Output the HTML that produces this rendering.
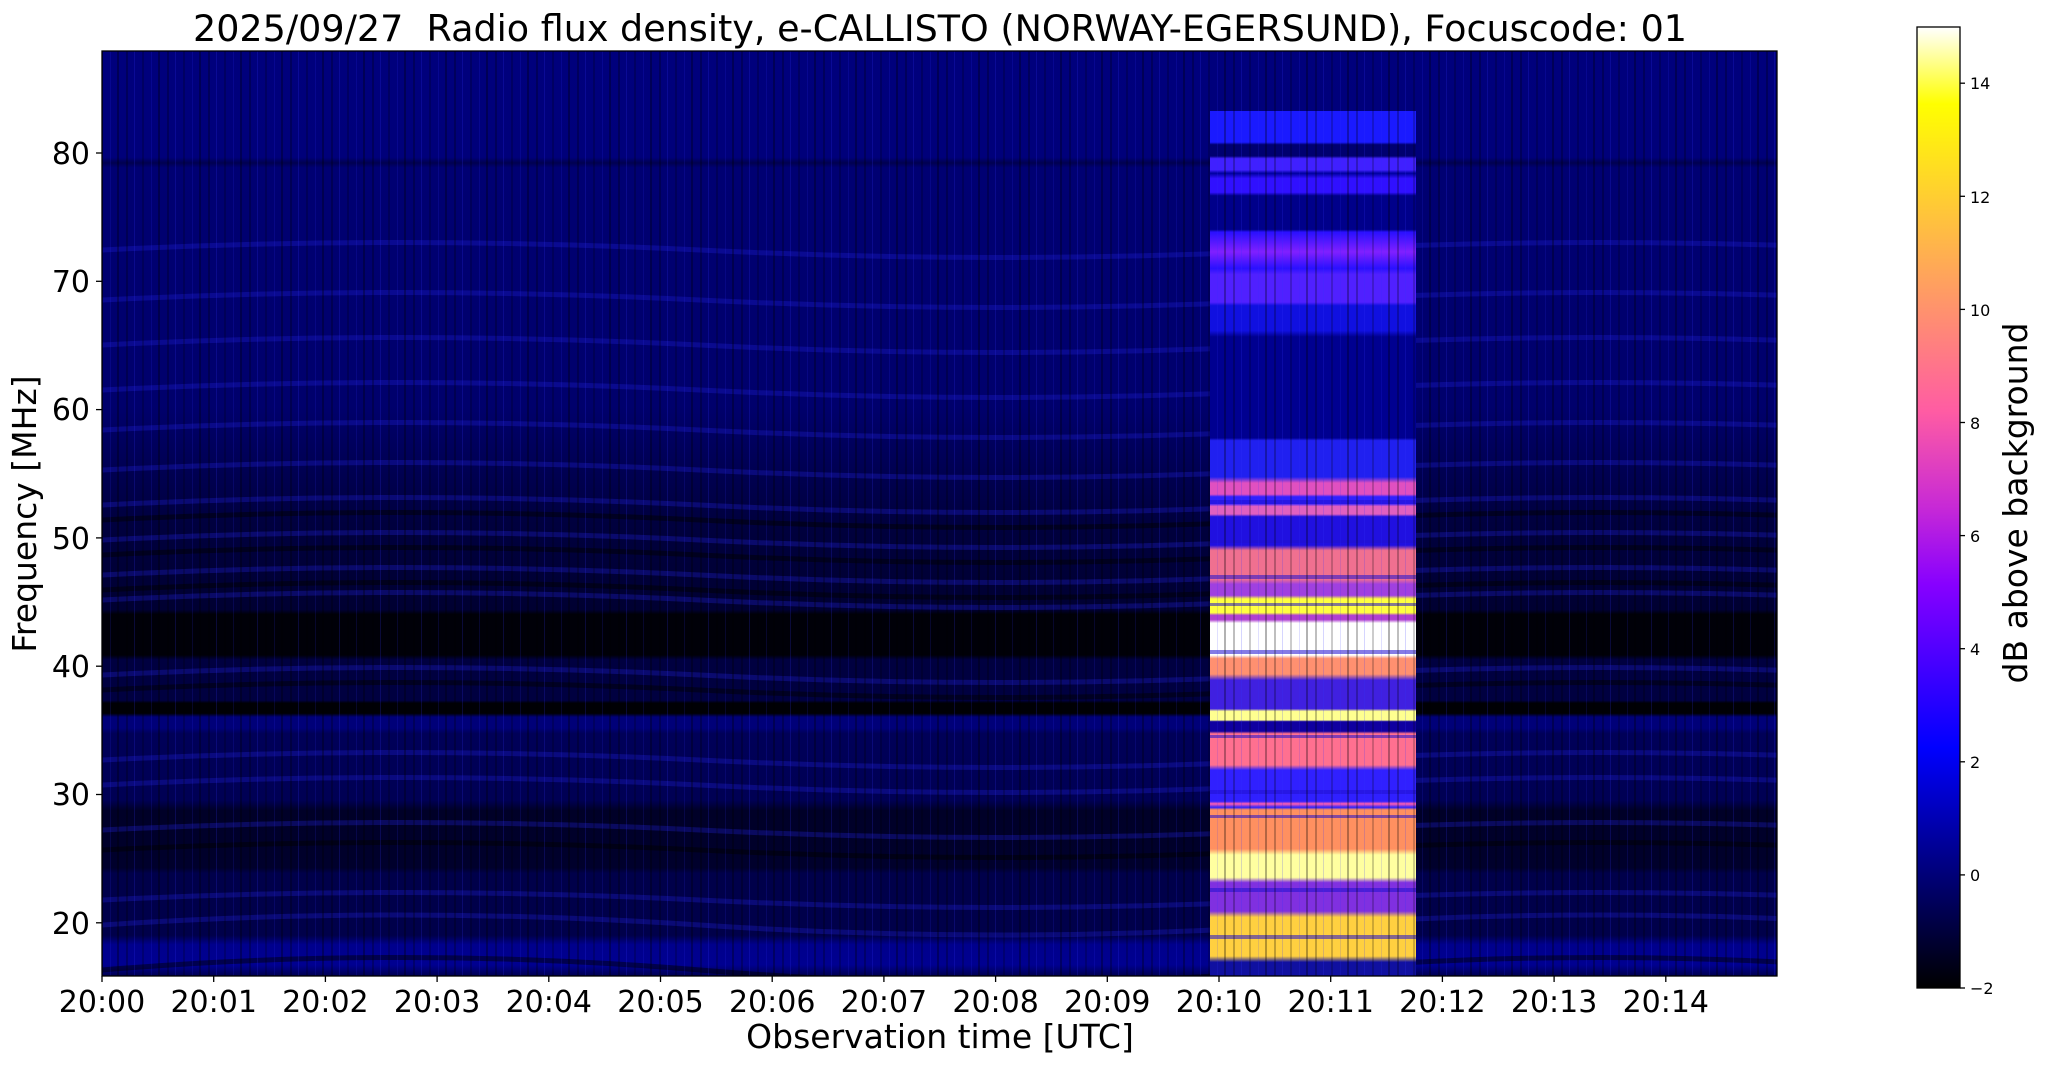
<!DOCTYPE html>
<html><head><meta charset="utf-8"><style>
html,body{margin:0;padding:0;background:#fff;}
svg{display:block;font-family:"DejaVu Sans","Liberation Sans",sans-serif;}
</style></head><body>
<svg width="2047" height="1067" viewBox="0 0 2047 1067" xmlns="http://www.w3.org/2000/svg">
<defs>
<linearGradient id="bg" x1="0" y1="0" x2="0" y2="1">
<stop offset="0" stop-color="#00007c"/><stop offset="0.115" stop-color="#00007a"/>
<stop offset="0.121" stop-color="#000050"/><stop offset="0.126" stop-color="#000072"/>
<stop offset="0.384" stop-color="#00006c"/><stop offset="0.454" stop-color="#000052"/>
<stop offset="0.511" stop-color="#00003e"/><stop offset="0.604" stop-color="#000032"/>
<stop offset="0.609" stop-color="#000008"/><stop offset="0.653" stop-color="#000008"/>
<stop offset="0.658" stop-color="#000040"/><stop offset="0.702" stop-color="#000040"/>
<stop offset="0.705" stop-color="#000005"/><stop offset="0.716" stop-color="#000005"/>
<stop offset="0.720" stop-color="#000078"/><stop offset="0.732" stop-color="#000078"/>
<stop offset="0.738" stop-color="#000058"/><stop offset="0.810" stop-color="#000054"/>
<stop offset="0.821" stop-color="#000028"/><stop offset="0.883" stop-color="#00002c"/>
<stop offset="0.889" stop-color="#00004a"/><stop offset="0.956" stop-color="#00004a"/>
<stop offset="0.966" stop-color="#00008c"/><stop offset="0.988" stop-color="#000090"/>
<stop offset="1" stop-color="#000050"/>
</linearGradient>
<linearGradient id="burst" x1="0" y1="0" x2="0" y2="1">
<stop offset="0" stop-color="#1a1aff"/><stop offset="0.036" stop-color="#1a1aff"/>
<stop offset="0.039" stop-color="#000070"/><stop offset="0.052" stop-color="#000070"/>
<stop offset="0.055" stop-color="#4020ff"/><stop offset="0.068" stop-color="#4020ff"/>
<stop offset="0.072" stop-color="#0000a0"/>
<stop offset="0.078" stop-color="#3010ff"/><stop offset="0.094" stop-color="#3010ff"/>
<stop offset="0.098" stop-color="#00008a"/><stop offset="0.137" stop-color="#00008a"/>
<stop offset="0.140" stop-color="#2a10ff"/><stop offset="0.163" stop-color="#8020ff"/><stop offset="0.182" stop-color="#2a10ff"/>
<stop offset="0.189" stop-color="#5020ff"/><stop offset="0.221" stop-color="#5020ff"/>
<stop offset="0.225" stop-color="#1010e0"/><stop offset="0.254" stop-color="#1010e0"/>
<stop offset="0.261" stop-color="#000090"/><stop offset="0.378" stop-color="#000090"/>
<stop offset="0.381" stop-color="#2020f0"/><stop offset="0.423" stop-color="#2020f0"/>
<stop offset="0.430" stop-color="#e050c0"/><stop offset="0.443" stop-color="#e050c0"/>
<stop offset="0.446" stop-color="#3020ff"/><stop offset="0.454" stop-color="#3020ff"/>
<stop offset="0.457" stop-color="#e060c0"/><stop offset="0.466" stop-color="#e060c0"/>
<stop offset="0.469" stop-color="#2010e0"/><stop offset="0.502" stop-color="#2010e0"/>
<stop offset="0.508" stop-color="#f07090"/><stop offset="0.541" stop-color="#f07090"/>
<stop offset="0.547" stop-color="#a040e0"/><stop offset="0.560" stop-color="#a040e0"/>
<stop offset="0.564" stop-color="#ffff40"/><stop offset="0.580" stop-color="#ffff40"/>
<stop offset="0.583" stop-color="#b040d0"/><stop offset="0.588" stop-color="#b040d0"/>
<stop offset="0.592" stop-color="#ffffff"/><stop offset="0.629" stop-color="#ffffff"/>
<stop offset="0.633" stop-color="#ff9070"/><stop offset="0.651" stop-color="#ff9070"/>
<stop offset="0.658" stop-color="#4020e0"/><stop offset="0.691" stop-color="#4020e0"/>
<stop offset="0.694" stop-color="#ffff90"/><stop offset="0.704" stop-color="#ffff90"/>
<stop offset="0.706" stop-color="#1000a0"/><stop offset="0.717" stop-color="#1000a0"/>
<stop offset="0.720" stop-color="#ff7090"/><stop offset="0.756" stop-color="#ff7090"/>
<stop offset="0.762" stop-color="#3020ff"/><stop offset="0.798" stop-color="#3020ff"/>
<stop offset="0.801" stop-color="#ff60b0"/><stop offset="0.805" stop-color="#3020ff"/>
<stop offset="0.808" stop-color="#ff9060"/><stop offset="0.853" stop-color="#ff9060"/>
<stop offset="0.860" stop-color="#ffffa0"/><stop offset="0.886" stop-color="#ffffa0"/>
<stop offset="0.892" stop-color="#8030e0"/><stop offset="0.925" stop-color="#8030e0"/>
<stop offset="0.932" stop-color="#ffd040"/><stop offset="0.977" stop-color="#ffd040"/>
<stop offset="0.984" stop-color="#1010a0"/><stop offset="1" stop-color="#1010a0"/>
</linearGradient>
<linearGradient id="cmap" x1="0" y1="1" x2="0" y2="0">
<stop offset="0" stop-color="#000000"/><stop offset="0.25" stop-color="#0000ff"/>
<stop offset="0.42" stop-color="#8700ff"/><stop offset="0.5" stop-color="#c729d6"/>
<stop offset="0.6" stop-color="#ff5ca3"/><stop offset="0.7" stop-color="#ff8f70"/>
<stop offset="0.8" stop-color="#ffc23d"/><stop offset="0.92" stop-color="#ffff00"/>
<stop offset="1" stop-color="#ffffff"/>
</linearGradient>
<pattern id="vn" x="0" y="0" width="41" height="10" patternUnits="userSpaceOnUse">
<rect x="3" y="0" width="2" height="10" fill="#000" opacity="0.25"/>
<rect x="11" y="0" width="1" height="10" fill="#3030ff" opacity="0.2"/>
<rect x="19" y="0" width="2" height="10" fill="#000" opacity="0.2"/>
<rect x="28" y="0" width="1" height="10" fill="#3030ff" opacity="0.15"/>
<rect x="35" y="0" width="2" height="10" fill="#000" opacity="0.3"/>
</pattern>
<clipPath id="pc"><rect x="102" y="51" width="1675" height="925"/></clipPath>
</defs>

<rect x="102" y="51" width="1675" height="925" fill="url(#bg)"/>
<g clip-path="url(#pc)" fill="none" stroke-width="5">
<g stroke="#2222dd" opacity="0.3">
<path d="M102,250 Q400,235 700,250 T1300,250 T1900,250"/>
<path d="M102,300 Q400,285 700,300 T1300,300 T1900,300"/>
<path d="M102,345 Q400,330 700,345 T1300,345 T1900,345"/>
<path d="M102,390 Q400,375 700,390 T1300,390 T1900,390"/>
<path d="M102,430 Q400,415 700,430 T1300,430 T1900,430"/>
<path d="M102,470 Q400,455 700,470 T1300,470 T1900,470"/>
<path d="M102,505 Q400,490 700,505 T1300,505 T1900,505"/>
<path d="M102,540 Q400,525 700,540 T1300,540 T1900,540"/>
<path d="M102,575 Q400,560 700,575 T1300,575 T1900,575"/>
<path d="M102,600 Q400,585 700,600 T1300,600 T1900,600"/>
<path d="M102,675 Q400,660 700,675 T1300,675 T1900,675"/>
<path d="M102,760 Q400,745 700,760 T1300,760 T1900,760"/>
<path d="M102,785 Q400,770 700,785 T1300,785 T1900,785"/>
<path d="M102,830 Q400,815 700,830 T1300,830 T1900,830"/>
<path d="M102,900 Q400,885 700,900 T1300,900 T1900,900"/>
<path d="M102,925 Q400,905 700,925 T1300,925 T1900,925"/>
</g>
<g stroke="#000000" opacity="0.45">
<path d="M102,520 Q400,505 700,520 T1300,520 T1900,520"/>
<path d="M102,555 Q400,540 700,555 T1300,555 T1900,555"/>
<path d="M102,590 Q400,575 700,590 T1300,590 T1900,590"/>
<path d="M102,690 Q400,675 700,690 T1300,690 T1900,690"/>
<path d="M102,850 Q400,835 700,850 T1300,850 T1900,850"/>
<path d="M102,970 Q400,945 700,970 T1300,970 T1900,970"/>
</g>
<rect x="102" y="51" width="1675" height="925" fill="url(#vn)" stroke="none"/>
</g>
<rect x="1210" y="111" width="206" height="865" fill="url(#burst)"/>
<g fill="#2010d0" opacity="0.55">
<rect x="1210" y="500" width="206" height="4"/><rect x="1210" y="540" width="206" height="3"/>
<rect x="1210" y="575" width="206" height="4"/><rect x="1210" y="603" width="206" height="3"/>
<rect x="1210" y="650" width="206" height="4"/><rect x="1210" y="735" width="206" height="3"/>
<rect x="1210" y="790" width="206" height="4"/><rect x="1210" y="815" width="206" height="3"/>
<rect x="1210" y="888" width="206" height="4"/><rect x="1210" y="935" width="206" height="4"/>
</g>
<rect x="1210" y="111" width="206" height="865" fill="url(#vn)"/>
<rect x="102" y="51" width="1675" height="925" fill="none" stroke="#000" stroke-width="1.3"/>

<g stroke="#000" stroke-width="1.3">
<line x1="96" y1="153" x2="102" y2="153"/><line x1="96" y1="281.3" x2="102" y2="281.3"/>
<line x1="96" y1="409.6" x2="102" y2="409.6"/><line x1="96" y1="537.9" x2="102" y2="537.9"/>
<line x1="96" y1="666.2" x2="102" y2="666.2"/><line x1="96" y1="794.5" x2="102" y2="794.5"/>
<line x1="96" y1="922.8" x2="102" y2="922.8"/>
</g>
<g font-size="30" text-anchor="end" fill="#000">
<text x="90" y="164">80</text><text x="90" y="292">70</text><text x="90" y="420">60</text>
<text x="90" y="549">50</text><text x="90" y="677">40</text><text x="90" y="805">30</text><text x="90" y="934">20</text>
</g>
<g stroke="#000" stroke-width="1.3">
<line x1="102" y1="976" x2="102" y2="982"/><line x1="213.7" y1="976" x2="213.7" y2="982"/>
<line x1="325.4" y1="976" x2="325.4" y2="982"/><line x1="437.1" y1="976" x2="437.1" y2="982"/>
<line x1="548.8" y1="976" x2="548.8" y2="982"/><line x1="660.5" y1="976" x2="660.5" y2="982"/>
<line x1="772.2" y1="976" x2="772.2" y2="982"/><line x1="883.9" y1="976" x2="883.9" y2="982"/>
<line x1="995.6" y1="976" x2="995.6" y2="982"/><line x1="1107.3" y1="976" x2="1107.3" y2="982"/>
<line x1="1219" y1="976" x2="1219" y2="982"/><line x1="1330.7" y1="976" x2="1330.7" y2="982"/>
<line x1="1442.4" y1="976" x2="1442.4" y2="982"/><line x1="1554.1" y1="976" x2="1554.1" y2="982"/>
<line x1="1665.8" y1="976" x2="1665.8" y2="982"/>
</g>
<g font-size="30" text-anchor="middle" fill="#000">
<text x="102" y="1012">20:00</text><text x="213.7" y="1012">20:01</text><text x="325.4" y="1012">20:02</text>
<text x="437.1" y="1012">20:03</text><text x="548.8" y="1012">20:04</text><text x="660.5" y="1012">20:05</text>
<text x="772.2" y="1012">20:06</text><text x="883.9" y="1012">20:07</text><text x="995.6" y="1012">20:08</text>
<text x="1107.3" y="1012">20:09</text><text x="1219" y="1012">20:10</text><text x="1330.7" y="1012">20:11</text>
<text x="1442.4" y="1012">20:12</text><text x="1554.1" y="1012">20:13</text><text x="1665.8" y="1012">20:14</text>
</g>
<text x="940" y="1048" font-size="33" text-anchor="middle">Observation time [UTC]</text>
<text transform="translate(36,514) rotate(-90)" font-size="33" text-anchor="middle">Frequency [MHz]</text>
<text x="940" y="41" font-size="36.5" text-anchor="middle" style="white-space:pre">2025/09/27  Radio flux density, e-CALLISTO (NORWAY-EGERSUND), Focuscode: 01</text>

<rect x="1917" y="27" width="43" height="961" fill="url(#cmap)" stroke="#000" stroke-width="1.3"/>
<g stroke="#000" stroke-width="1.3">
<line x1="1960" y1="988" x2="1965" y2="988"/><line x1="1960" y1="874.9" x2="1965" y2="874.9"/>
<line x1="1960" y1="761.8" x2="1965" y2="761.8"/><line x1="1960" y1="648.7" x2="1965" y2="648.7"/>
<line x1="1960" y1="535.6" x2="1965" y2="535.6"/><line x1="1960" y1="422.5" x2="1965" y2="422.5"/>
<line x1="1960" y1="309.4" x2="1965" y2="309.4"/><line x1="1960" y1="196.3" x2="1965" y2="196.3"/>
<line x1="1960" y1="83.2" x2="1965" y2="83.2"/>
</g>
<g font-size="16" fill="#000">
<text x="1970" y="994">−2</text><text x="1970" y="881">0</text><text x="1970" y="768">2</text>
<text x="1970" y="655">4</text><text x="1970" y="542">6</text><text x="1970" y="429">8</text>
<text x="1970" y="316">10</text><text x="1970" y="203">12</text><text x="1970" y="89">14</text>
</g>
<text transform="translate(2027,503) rotate(-90)" font-size="33" text-anchor="middle">dB above background</text>
</svg>
</body></html>
